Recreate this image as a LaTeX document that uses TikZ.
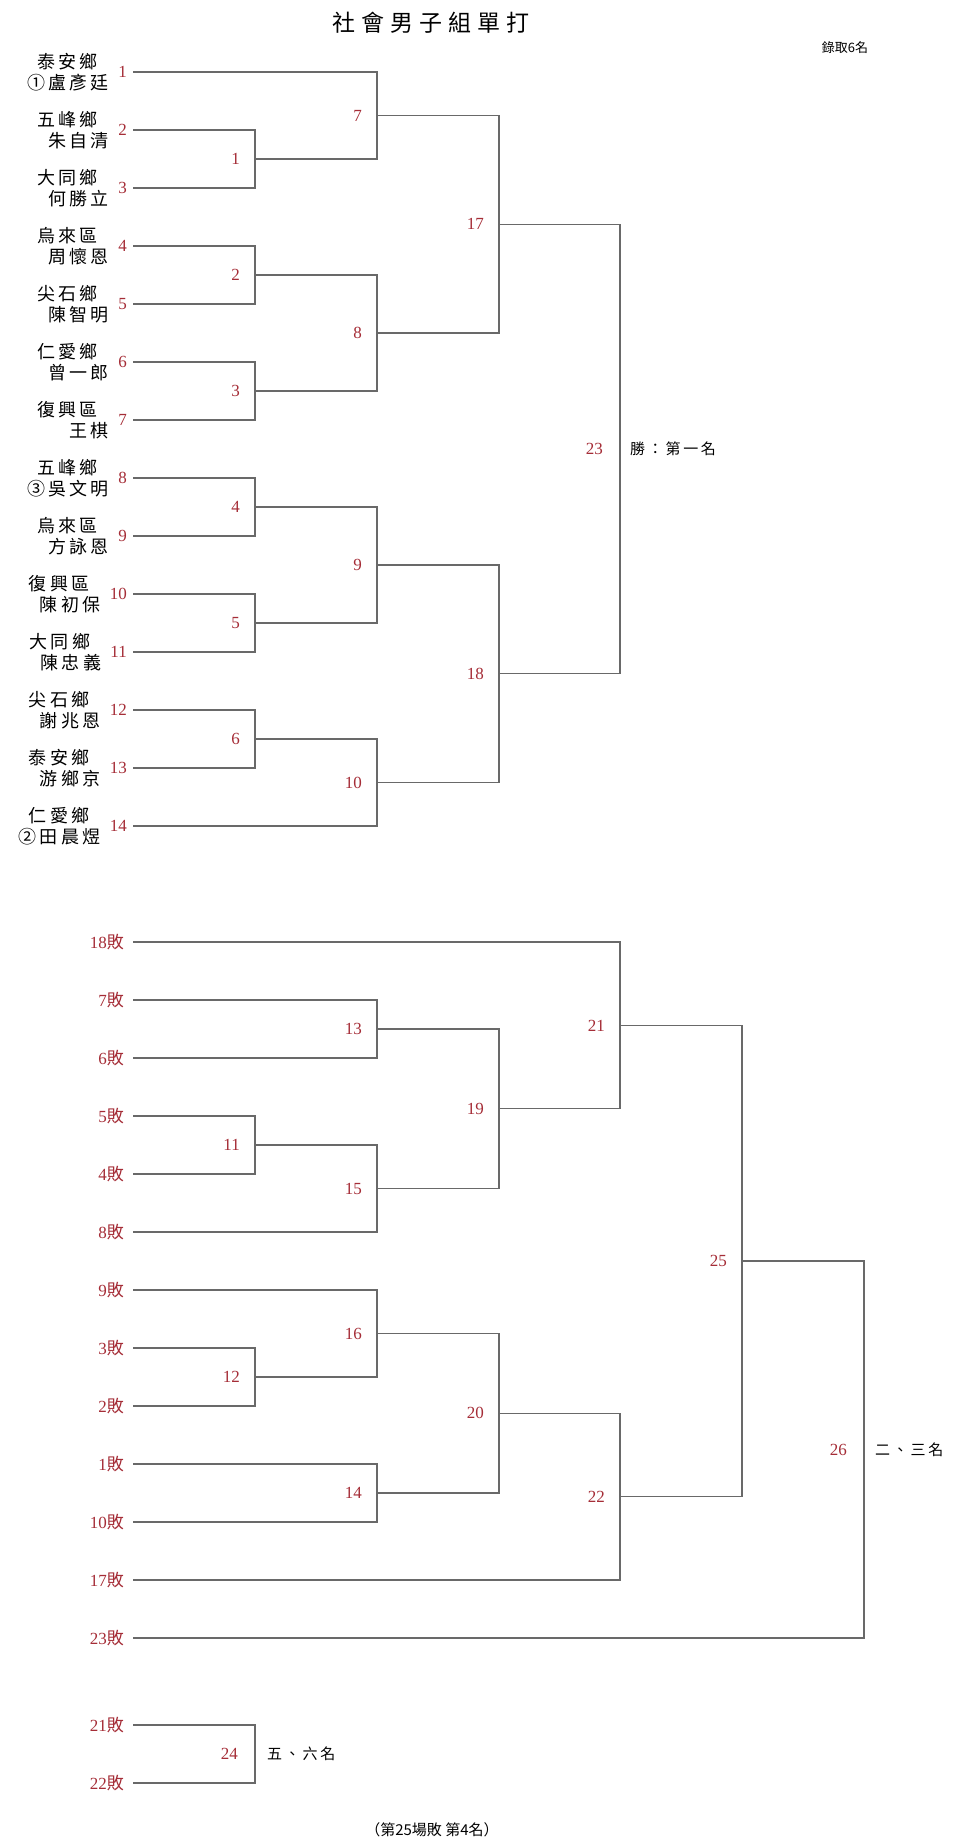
\documentclass[tikz,border=0pt]{standalone}
\usepackage{fontspec}
\usepackage{xcolor}
\usepackage{tikz}
\usetikzlibrary{positioning}
\setmainfont{Liberation Serif}
\newfontfamily\cjk[LetterSpace=18]{Noto Sans CJK TC}
\newfontfamily\cjktitle[LetterSpace=26]{Noto Sans CJK TC}
\newfontfamily\cjkplain{Noto Sans CJK TC}
\definecolor{drawRed}{RGB}{165,45,55}
\definecolor{lineGray}{RGB}{105,105,105}

\tikzset{
    wire/.style={lineGray, line width=1.2bp},
    entrynum/.style={text=drawRed, inner sep=0pt, font=\fontsize{17bp}{17bp}\selectfont},
    matchnum/.style={text=drawRed, inner sep=0pt, font=\fontsize{17bp}{17bp}\selectfont},
    teamname/.style={inner sep=0pt, align=right, font=\fontsize{18bp}{21bp}\cjk},
    placenote/.style={inner sep=0pt, font=\fontsize{15bp}{15bp}\cjk},
    titletext/.style={inner sep=0pt, font=\fontsize{23bp}{23bp}\cjktitle},
    smallnote/.style={inner sep=0pt, font=\fontsize{13bp}{13bp}\cjkplain}
}

\begin{document}
\begin{tikzpicture}[x=1bp,y=-1bp]
    \useasboundingbox (0,0) rectangle (960,1845);

    % title
    \node[titletext] (title) at (431,23) {社會男子組單打};
    \node[smallnote] (quota) at (845,48) {錄取6名};

    % upper bracket: players
    \foreach \i/\club/\player in {1/泰安鄉/①盧彥廷, 2/五峰鄉/朱自清, 3/大同鄉/何勝立,
        4/烏來區/周懷恩, 5/尖石鄉/陳智明, 6/仁愛鄉/曾一郎, 7/復興區/王棋,
        8/五峰鄉/③吳文明, 9/烏來區/方詠恩, 10/復興區/陳初保, 11/大同鄉/陳忠義,
        12/尖石鄉/謝兆恩, 13/泰安鄉/游鄉京, 14/仁愛鄉/②田晨煜} {
        \coordinate (a\i) at (133,{14+58*\i});
        \node[entrynum, left=6bp of a\i] (n\i) {\i};
        \node[teamname, left=9bp of n\i] (t\i) {\club\kern11bp\\\player};
    }

    % upper bracket: matches
    \coordinate (m1) at (255,159);
    \coordinate (m2) at (255,275);
    \coordinate (m3) at (255,391);
    \coordinate (m4) at (255,507);
    \coordinate (m5) at (255,623);
    \coordinate (m6) at (255,739);
    \coordinate (m7) at (377,115.5);
    \coordinate (m8) at (377,333);
    \coordinate (m9) at (377,565);
    \coordinate (m10) at (377,782.5);
    \coordinate (m17) at (499,224.25);
    \coordinate (m18) at (499,673.75);
    \coordinate (m23) at (620,449);

    \foreach \from/\to in {a2/m1,a3/m1,a4/m2,a5/m2,a6/m3,a7/m3,a8/m4,a9/m4,
        a10/m5,a11/m5,a12/m6,a13/m6,a1/m7,m1/m7,m2/m8,m3/m8,m4/m9,m5/m9,
        m6/m10,a14/m10,m7/m17,m8/m17,m9/m18,m10/m18,m17/m23,m18/m23}
        \draw[wire] (\from) -| (\to);

    \foreach \m in {1,...,10,17,18}
        \node[matchnum, left=15bp of m\m] (l\m) {\m};
    \node[matchnum, left=17bp of m23] (l23) {23};
    \node[placenote, right=10bp of m23] (first) {勝：第一名};

    % lower bracket: losers
    \foreach \y/\lose in {942/18,1000/7,1058/6,1116/5,1174/4,1232/8,1290/9,
        1348/3,1406/2,1464/1,1522/10,1580/17,1638/23,1725/21,1783/22} {
        \coordinate (b\lose) at (133,\y);
        \node[entrynum, left=9bp of b\lose] (bl\lose) {\lose{\cjkplain 敗}};
    }

    % lower bracket: matches
    \coordinate (m11) at (255,1145);
    \coordinate (m12) at (255,1377);
    \coordinate (m13) at (377,1029);
    \coordinate (m14) at (377,1493);
    \coordinate (m15) at (377,1188.5);
    \coordinate (m16) at (377,1333.5);
    \coordinate (m19) at (499,1108.75);
    \coordinate (m20) at (499,1413.25);
    \coordinate (m21) at (620,1025.4);
    \coordinate (m22) at (620,1496.6);
    \coordinate (m25) at (742,1261);
    \coordinate (m26) at (864,1449.5);
    \coordinate (m24) at (255,1754);

    \foreach \from/\to in {b7/m13,b6/m13,b5/m11,b4/m11,m11/m15,b8/m15,
        m13/m19,m15/m19,b18/m21,m19/m21,b9/m16,b3/m12,b2/m12,m12/m16,
        b1/m14,b10/m14,m16/m20,m14/m20,m20/m22,b17/m22,m21/m25,m22/m25,
        m25/m26,b23/m26,b21/m24,b22/m24}
        \draw[wire] (\from) -| (\to);

    \foreach \m in {11,...,16,19,20,21,22,25}
        \node[matchnum, left=15bp of m\m] (l\m) {\m};
    \node[matchnum, left=17bp of m26] (l26) {26};
    \node[placenote, right=11bp of m26] (second) {二、三名};
    \node[matchnum, left=17bp of m24] (l24) {24};
    \node[placenote, right=12bp of m24] (fifth) {五、六名};

    % bottom note
    \node[smallnote, font=\fontsize{15bp}{15bp}\cjkplain] (fourth) at (432,1830) {（第25場敗 第4名）};
\end{tikzpicture}
\end{document}
